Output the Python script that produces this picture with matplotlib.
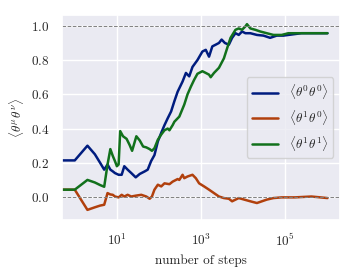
import numpy as np
import matplotlib
matplotlib.use("Agg")
import matplotlib.pyplot as plt
import seaborn as sns

sns.set_theme(style="darkgrid")
plt.rcParams['font.family'] = 'serif'
plt.rcParams['font.serif'] = ['cmr10']
plt.rcParams['mathtext.fontset'] = 'cm'
plt.rcParams['axes.formatter.use_mathtext'] = True

# data (steps, correlation)
steps_00 = [0, 1, 2, 3, 4, 5, 6, 7, 8, 9, 11, 13, 15, 18, 22, 28, 35, 46, 54, 65, 78, 94,
            113, 135, 161, 194, 232, 277, 363, 436, 522, 624, 818, 1073, 1290, 1542, 1845,
            2218, 2653, 3070, 3670, 4560, 5450, 6550, 7830, 9370, 11270, 14760, 21130,
            30300, 43600, 62400, 89700, 117800, 242000, 1000000]
corr_00 = [0.214, 0.214, 0.30, 0.25, 0.20, 0.16, 0.19, 0.16, 0.15, 0.14, 0.13, 0.13, 0.18,
           0.16, 0.14, 0.115, 0.135, 0.15, 0.16, 0.21, 0.245, 0.325, 0.375, 0.42, 0.46,
           0.50, 0.56, 0.615, 0.675, 0.725, 0.705, 0.76, 0.80, 0.85, 0.86, 0.82, 0.88, 0.89,
           0.90, 0.92, 0.90, 0.89, 0.93, 0.957, 0.947, 0.967, 0.957, 0.957, 0.947, 0.943,
           0.93, 0.943, 0.943, 0.947, 0.957, 0.957]

steps_10 = [0, 1, 2, 3, 4, 5, 6, 7, 8, 9, 11, 13, 15, 18, 22, 28, 38, 50, 60, 68, 78, 94,
            113, 135, 177, 211, 277, 304, 363, 398, 476, 624, 750, 897, 1177, 1542, 2023,
            2653, 3475, 4560, 5450, 5970, 7830, 14760, 21130, 27700, 36300, 52200, 81800,
            169000, 416000, 1000000]
corr_10 = [0.043, 0.043, -0.075, -0.06, -0.05, -0.045, 0.023, 0.015, 0.013, 0.003, -0.002,
           0.013, 0.003, 0.013, 0.003, 0.008, 0.013, 0.003, -0.01, 0.003, 0.043, 0.072,
           0.062, 0.08, 0.075, 0.09, 0.105, 0.10, 0.13, 0.11, 0.12, 0.13, 0.11, 0.08, 0.062,
           0.043, 0.023, 0.003, -0.006, -0.01, -0.025, -0.02, -0.006, -0.025, -0.035,
           -0.025, -0.015, -0.006, -0.002, -0.002, 0.003, -0.006]

steps_11 = [0, 1, 2, 3, 4, 5, 6, 7, 8, 9, 10, 11, 12, 14, 17, 20, 23, 29, 35, 42, 50, 60,
            68, 78, 94, 113, 135, 161, 177, 211, 232, 254, 304, 398, 476, 572, 684, 818,
            1073, 1290, 1542, 1690, 2023, 2653, 3475, 4160, 5000, 6550, 7830, 9370, 11270,
            12280, 14760, 19360, 25400, 36300, 52200, 81800, 117800, 1000000]
corr_11 = [0.043, 0.043, 0.10, 0.085, 0.07, 0.06, 0.19, 0.28, 0.24, 0.21, 0.18, 0.19,
           0.385, 0.355, 0.34, 0.305, 0.27, 0.355, 0.33, 0.295, 0.29, 0.28, 0.27, 0.285,
           0.335, 0.365, 0.39, 0.40, 0.39, 0.42, 0.44, 0.45, 0.47, 0.54, 0.60, 0.645, 0.685,
           0.72, 0.735, 0.725, 0.715, 0.70, 0.725, 0.755, 0.81, 0.87, 0.93, 0.977, 0.985,
           0.977, 0.997, 1.01, 0.985, 0.977, 0.967, 0.957, 0.947, 0.947, 0.957, 0.957]

colors = sns.color_palette("dark")

fig = plt.figure(figsize=(3.55, 2.76), dpi=100)
ax = fig.add_axes([0.175, 0.203, 0.783, 0.743])

ax.plot(steps_00, corr_00, color=colors[0], lw=1.8, label=r'$\langle\theta^0\theta^0\rangle$')
ax.plot(steps_10, corr_10, color=colors[1], lw=1.8, label=r'$\langle\theta^1\theta^0\rangle$')
ax.plot(steps_11, corr_11, color=colors[2], lw=1.8, label=r'$\langle\theta^1\theta^1\rangle$')
ax.axhline(0, color='gray', ls='--', lw=0.7)
ax.axhline(1, color='gray', ls='--', lw=0.7)

ax.set_xscale('log')
ax.set_xlim(10**-0.3, 10**6.3)
ax.set_ylim(-0.134, 1.064)
ax.set_xticks([10, 1000, 100000])
ax.minorticks_off()
ax.tick_params(labelsize=9.5, pad=3)
ax.set_xlabel('number of steps', fontsize=9.5)
ax.set_ylabel(r'$\langle\theta^\mu\theta^\nu\rangle$', fontsize=9.5)
ax.legend(loc='center right', fontsize=9.5)

fig.savefig('out.png', dpi=100)
